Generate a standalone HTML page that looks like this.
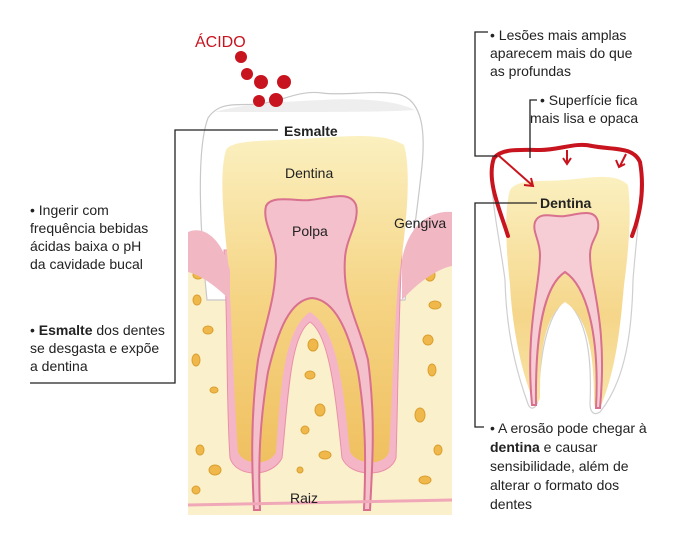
<!DOCTYPE html>
<html><head><meta charset="utf-8"><style>
html,body{margin:0;padding:0;background:#fff;}
body{width:700px;height:538px;position:relative;overflow:hidden;font-family:"Liberation Sans Narrow","Liberation Sans",sans-serif;color:#222;}
.t{position:absolute;font-size:14px;line-height:18px;white-space:nowrap;}
svg{position:absolute;left:0;top:0;}
</style></head><body>
<svg width="700" height="538" viewBox="0 0 700 538">
<defs>
<linearGradient id="dent" x1="0" y1="0" x2="0" y2="1">
<stop offset="0" stop-color="#fbf0c0"/><stop offset="0.5" stop-color="#f5d484"/><stop offset="1" stop-color="#f0c060"/></linearGradient>
<linearGradient id="dent2" x1="0" y1="0" x2="0" y2="1">
<stop offset="0" stop-color="#fbf0c0"/><stop offset="0.6" stop-color="#f5d68a"/><stop offset="1" stop-color="#f8e4a8"/></linearGradient>
</defs>
<!-- bone -->
<rect x="188" y="255" width="264" height="260" fill="#fbf0cc"/>
<!-- bone spots -->
<g fill="#f0b84a" stroke="#d9a030" stroke-width="1">
<ellipse cx="198" cy="275" rx="5" ry="4"/><ellipse cx="197" cy="300" rx="4" ry="5"/><ellipse cx="208" cy="330" rx="5" ry="4"/><ellipse cx="196" cy="360" rx="4" ry="6"/>
<ellipse cx="214" cy="390" rx="4" ry="3"/><ellipse cx="200" cy="450" rx="4" ry="5"/><ellipse cx="215" cy="470" rx="6" ry="5"/><ellipse cx="196" cy="490" rx="4" ry="4"/>
<ellipse cx="430" cy="275" rx="5" ry="6"/><ellipse cx="435" cy="305" rx="6" ry="4"/><ellipse cx="428" cy="340" rx="5" ry="5"/><ellipse cx="432" cy="370" rx="4" ry="6"/>
<ellipse cx="420" cy="415" rx="5" ry="7"/><ellipse cx="438" cy="450" rx="4" ry="5"/><ellipse cx="425" cy="480" rx="6" ry="4"/>
<ellipse cx="313" cy="345" rx="5" ry="6"/><ellipse cx="310" cy="375" rx="5" ry="4"/><ellipse cx="320" cy="410" rx="5" ry="6"/><ellipse cx="305" cy="430" rx="4" ry="4"/><ellipse cx="325" cy="455" rx="6" ry="4"/><ellipse cx="300" cy="470" rx="3" ry="3"/>
</g>
<!-- big tooth enamel -->
<path d="M207,300 C200,230 196,150 208,118 C220,100 240,106 260,104 C285,100 300,90 322,93 C345,96 372,90 398,94 C424,100 426,135 421,175 C416,220 410,262 405,300 Z" fill="#fff" stroke="#c8c8c8" stroke-width="1.2"/>
<path d="M215,112 C240,104 280,102 322,100 C360,98 395,100 415,110 C390,112 330,112 215,112 Z" fill="#eeeeee"/>
<!-- root cementum pink -->
<path d="M224,250 C228,320 226,400 230,458 C236,478 272,478 282,458 C288,400 290,335 310,322 C330,335 336,400 342,458 C350,478 390,478 396,458 C398,400 398,330 402,250 Z" fill="#f4b6c6" stroke="#e890a8" stroke-width="1"/>
<!-- dentin -->
<path d="M226,150 C232,140 262,141 300,139 C340,137 382,131 404,145 C412,172 406,232 398,282 C394,332 392,400 389,452 C384,466 358,466 350,452 C344,400 340,330 310,312 C282,330 280,400 276,452 C270,466 244,466 238,452 C234,400 232,320 228,262 C222,205 220,170 226,150 Z" fill="url(#dent)"/>
<!-- gums over -->
<path d="M188,232 C205,225 222,240 230,270 L230,300 C215,285 200,275 188,272 Z" fill="#f1b8c4"/>
<path d="M452,212 C430,210 408,225 402,260 L402,300 C420,280 440,268 452,266 Z" fill="#f1b8c4"/>
<!-- pulp -->
<path d="M266,206 C272,194 298,202 310,200 C330,198 350,190 356,205 C360,222 346,238 345,258 C342,300 358,320 368,360 C376,420 372,470 370,510 L364,510 C366,460 366,420 358,372 C348,330 335,300 312,298 C290,300 278,330 268,372 C260,420 258,460 260,510 L254,510 C252,470 250,420 258,360 C266,318 276,300 276,258 C275,238 262,222 266,206 Z" fill="#f3c0cc" stroke="#d8708e" stroke-width="2"/>
<line x1="188" y1="505" x2="452" y2="500" stroke="#f0a8b8" stroke-width="3"/>

<!-- small tooth -->
<path d="M492,165 C494,150 520,148 540,150 C560,152 575,142 590,146 C610,150 635,145 640,165 C642,200 636,240 633,280 C632,330 626,380 600,412 C594,416 590,412 590,404 C592,360 588,318 565,300 C545,318 540,360 538,400 C536,410 530,410 528,404 C512,360 506,320 505,280 C500,240 490,200 492,165 Z" fill="#fff" stroke="#cfcfcf" stroke-width="1.2"/>
<path d="M510,190 C518,178 545,182 565,180 C590,178 615,172 628,185 C632,215 628,255 624,285 C620,330 616,370 600,408 C596,410 594,408 594,400 C594,360 590,318 565,302 C542,318 540,360 540,398 C538,404 534,404 532,398 C518,360 512,320 510,285 C506,250 504,210 510,190 Z" fill="url(#dent2)"/>
<path d="M535,222 C540,210 555,218 565,216 C580,214 595,208 598,222 C600,235 590,240 590,255 C590,285 608,320 600,408 L596,408 C600,330 585,285 565,272 C545,285 535,330 536,405 L532,405 C525,330 540,285 540,255 C540,240 532,232 535,222 Z" fill="#f6cdd5" stroke="#d8708e" stroke-width="2"/>
<!-- red erosion outline -->
<path d="M508,236 C500,210 486,180 494,158 C502,148 520,150 540,150 C560,150 575,142 592,146 C612,150 633,146 640,162 C645,190 640,215 632,236" fill="none" stroke="#c8141e" stroke-width="4" stroke-linecap="round"/>
<g stroke="#c8141e" stroke-width="2" fill="none">
<line x1="498" y1="155" x2="532" y2="185"/><path d="M524,185 L533,186 L531,178"/>
<line x1="567" y1="150" x2="567" y2="163"/><path d="M563,158 L567,164 L571,158"/>
<line x1="626" y1="154" x2="620" y2="166"/><path d="M616,160 L619,167 L625,164"/>
</g>

<!-- acid drops -->
<g fill="#c8141e"><circle cx="241" cy="57" r="6"/><circle cx="247" cy="74" r="6"/><circle cx="261" cy="82" r="7"/><circle cx="284" cy="82" r="7"/><circle cx="259" cy="101" r="6"/><circle cx="276" cy="100" r="7"/></g>

<!-- connector lines -->
<g stroke="#222" stroke-width="1.3" fill="none">
<polyline points="278,130 175,130 175,383 30,383"/>
<polyline points="488,32 475,32 475,156 497,156"/>
<polyline points="537,100 530,100 530,158"/>
<polyline points="537,203 475,203 475,427 484,427"/>
</g>
</svg>
<div class="t" style="left:195px;top:34px;color:#c8141e;font-size:16px;">ÁCIDO</div>
<div class="t" style="left:284px;top:122px;font-weight:bold;">Esmalte</div>
<div class="t" style="left:285px;top:164px;">Dentina</div>
<div class="t" style="left:292px;top:222px;">Polpa</div>
<div class="t" style="left:394px;top:214px;">Gengiva</div>
<div class="t" style="left:290px;top:489px;">Raiz</div>
<div class="t" style="left:30px;top:201px;">• Ingerir com<br>frequência bebidas<br>ácidas baixa o pH<br>da cavidade bucal</div>
<div class="t" style="left:30px;top:321px;">• <b>Esmalte</b> dos dentes<br>se desgasta e expõe<br>a dentina</div>
<div class="t" style="left:490px;top:26px;">• Lesões mais amplas<br>aparecem mais do que<br>as profundas</div>
<div class="t" style="left:540px;top:91px;">• Superfície fica</div>
<div class="t" style="left:530px;top:109px;">mais lisa e opaca</div>
<div class="t" style="left:540px;top:194px;font-weight:bold;">Dentina</div>
<div class="t" style="left:490px;top:419px;line-height:19px;">• A erosão pode chegar à<br><b>dentina</b> e causar<br>sensibilidade, além de<br>alterar o formato dos<br>dentes</div>
</body></html>
